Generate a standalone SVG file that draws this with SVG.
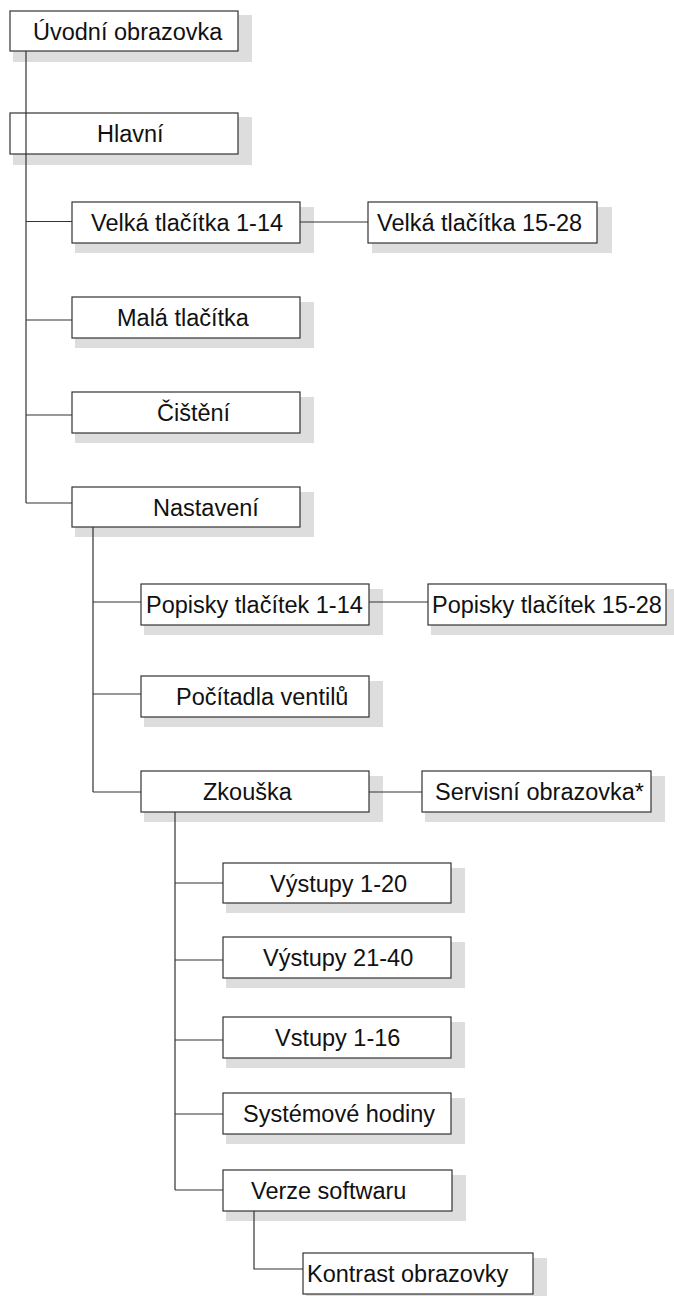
<svg xmlns="http://www.w3.org/2000/svg" width="674" height="1296" viewBox="0 0 674 1296">
<style>
.sh{fill:#dddddd;stroke:none}
.bx{fill:#ffffff;stroke:#333333;stroke-width:1.2}
.t{font-family:"Liberation Sans",Arial,sans-serif;font-size:23.5px;fill:#111111}
.c{fill:none;stroke:#333333;stroke-width:1.2}
</style>
<rect width="674" height="1296" fill="#ffffff"/>
<g id="n_uvodni"><rect class="sh" x="13" y="15" width="239" height="47"/><rect class="bx" x="10" y="11" width="228" height="40"/><text class="t" x="33" y="39.5">Úvodní obrazovka</text></g>
<g id="n_hlavni"><rect class="sh" x="13" y="117" width="239" height="48"/><rect class="bx" x="10" y="113" width="228" height="41"/><text class="t" x="97" y="142">Hlavní</text></g>
<g id="n_velka1"><rect class="sh" x="75" y="207" width="239" height="46"/><rect class="bx" x="72" y="202" width="228" height="41"/><text class="t" x="91" y="231">Velká tlačítka 1-14</text></g>
<g id="n_velka2"><rect class="sh" x="372" y="207" width="240" height="46"/><rect class="bx" x="368" y="202" width="229" height="41"/><text class="t" x="377" y="231">Velká tlačítka 15-28</text></g>
<g id="n_mala"><rect class="sh" x="75" y="302" width="239" height="46"/><rect class="bx" x="72" y="297" width="228" height="41"/><text class="t" x="117" y="326">Malá tlačítka</text></g>
<g id="n_cisteni"><rect class="sh" x="75" y="397" width="239" height="46"/><rect class="bx" x="72" y="392" width="228" height="41"/><text class="t" x="157" y="421">Čištění</text></g>
<g id="n_nastaveni"><rect class="sh" x="75" y="492" width="239" height="45"/><rect class="bx" x="72" y="487" width="228" height="40"/><text class="t" x="153" y="516">Nastavení</text></g>
<g id="n_popisky1"><rect class="sh" x="144" y="589" width="239" height="46"/><rect class="bx" x="141" y="584" width="228" height="41"/><text class="t" x="146" y="613">Popisky tlačítek 1-14</text></g>
<g id="n_popisky2"><rect class="sh" x="431" y="589" width="245" height="46"/><rect class="bx" x="428" y="584" width="238" height="41"/><text class="t" x="432" y="613">Popisky tlačítek 15-28</text></g>
<g id="n_pocitadla"><rect class="sh" x="144" y="681" width="239" height="46"/><rect class="bx" x="141" y="676" width="228" height="41"/><text class="t" x="176" y="705">Počítadla ventilů</text></g>
<g id="n_zkouska"><rect class="sh" x="144" y="776" width="239" height="46"/><rect class="bx" x="141" y="771" width="228" height="41"/><text class="t" x="203" y="800">Zkouška</text></g>
<g id="n_servisni"><rect class="sh" x="425" y="776" width="240" height="46"/><rect class="bx" x="422" y="771" width="229" height="41"/><text class="t" x="435" y="800">Servisní obrazovka*</text></g>
<g id="n_vystupy1"><rect class="sh" x="226" y="868" width="239" height="45"/><rect class="bx" x="223" y="863" width="228" height="40"/><text class="t" x="270" y="892">Výstupy 1-20</text></g>
<g id="n_vystupy2"><rect class="sh" x="226" y="942" width="239" height="46"/><rect class="bx" x="223" y="937" width="228" height="41"/><text class="t" x="263" y="966">Výstupy 21-40</text></g>
<g id="n_vstupy"><rect class="sh" x="226" y="1022" width="239" height="46"/><rect class="bx" x="223" y="1017" width="228" height="41"/><text class="t" x="275" y="1046">Vstupy 1-16</text></g>
<g id="n_hodiny"><rect class="sh" x="226" y="1098" width="239" height="46"/><rect class="bx" x="223" y="1093" width="228" height="41"/><text class="t" x="243" y="1122">Systémové hodiny</text></g>
<g id="n_verze"><rect class="sh" x="226" y="1175" width="240" height="46"/><rect class="bx" x="223" y="1170" width="229" height="41"/><text class="t" x="251" y="1199">Verze softwaru</text></g>
<g id="n_kontrast"><rect class="sh" x="306" y="1258" width="241" height="46"/><rect class="bx" x="303" y="1253" width="230" height="41"/><text class="t" x="307" y="1282">Kontrast obrazovky</text></g>
<g id="connectors">
<path class="c" d="M26 51V503M26 221.5H72M26 320H72M26 415H72M26 503H72"/>
<path class="c" d="M300 222H368"/>
<path class="c" d="M93 527V792M93 602H141M93 694H141M93 792H141"/>
<path class="c" d="M369 602H428"/>
<path class="c" d="M369 792H422"/>
<path class="c" d="M175 812V1190M175 883H223M175 960H223M175 1040H223M175 1114H223M175 1190H223"/>
<path class="c" d="M254 1211V1269H303"/>
</g>
</svg>
